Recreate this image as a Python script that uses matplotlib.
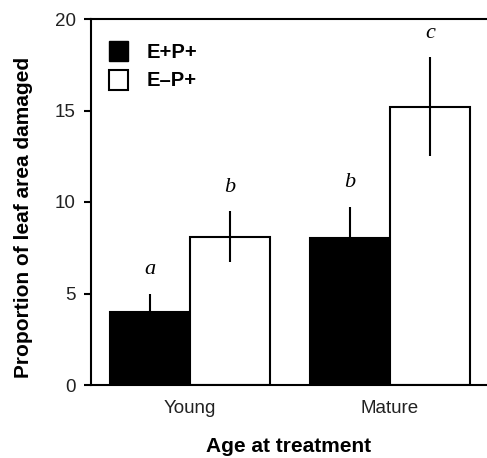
import matplotlib.pyplot as plt
from matplotlib.patches import Patch
import numpy as np

plt.rcParams['font.family'] = ['Liberation Sans', 'DejaVu Sans']

# Data
ages = ['Young', 'Mature']
ep_mean = [4.0, 8.05]      # E+P+
ep_err = [1.0, 1.7]
emp_mean = [8.1, 15.2]     # E-P+
emp_err = [1.4, 2.7]
ep_letters = ['a', 'b']
emp_letters = ['b', 'c']

x = np.arange(len(ages))
w = 0.4

fig = plt.figure(figsize=(4.87, 4.58), dpi=100)
ax = fig.add_axes([91 / 487, 1 - 385 / 458, 1 - 91 / 487, (385 - 19) / 458])

ax.bar(x - w / 2, ep_mean, w, color='black', edgecolor='black', linewidth=1.5,
       yerr=ep_err, error_kw=dict(ecolor='black', elinewidth=1.5, capsize=0))
ax.bar(x + w / 2, emp_mean, w, color='white', edgecolor='black', linewidth=1.5,
       yerr=emp_err, error_kw=dict(ecolor='black', elinewidth=1.5, capsize=0))

# significance letters
for xi, m, e, s in zip(np.concatenate([x - w / 2, x + w / 2]),
                       ep_mean + emp_mean, ep_err + emp_err,
                       ep_letters + emp_letters):
    ax.text(xi, m + e + 1.05, s, ha='center', va='baseline', fontsize=16,
            family='Liberation Serif', style='italic')

ax.set_xlim(-0.495, 1.485)
ax.set_ylim(0, 20)
ax.set_yticks([0, 5, 10, 15, 20])
ax.set_xticks(x)
ax.set_xticklabels(ages)
ax.tick_params(axis='x', length=0, pad=11, labelsize=13.5, labelcolor='#222222')
ax.tick_params(axis='y', length=5, width=1.5, pad=6, labelsize=13.5, labelcolor='#222222')
for s in ['left', 'bottom', 'top']:
    ax.spines[s].set_linewidth(1.5)
ax.spines['right'].set_visible(False)

ax.set_xlabel('Age at treatment', fontsize=15, fontweight='bold', va='baseline')
ax.xaxis.set_label_coords(0.5, (385 - 452) / 366)
ax.set_ylabel('Proportion of leaf area damaged', fontsize=15, fontweight='bold')
ax.yaxis.set_label_coords((33 - 91) / 396, (385 - 217) / 366)

handles = [Patch(facecolor='black', edgecolor='black', label='E+P+'),
           Patch(facecolor='white', edgecolor='black', linewidth=1.5, label='E\u2013P+')]
ax.legend(handles=handles, loc='upper left', bbox_to_anchor=(0.0, 0.99), frameon=False,
          handlelength=0.95, handleheight=1.15, handletextpad=0.9, labelspacing=0.4,
          prop=dict(weight='bold', size=14.5))

fig.savefig('out.png', dpi=100)
